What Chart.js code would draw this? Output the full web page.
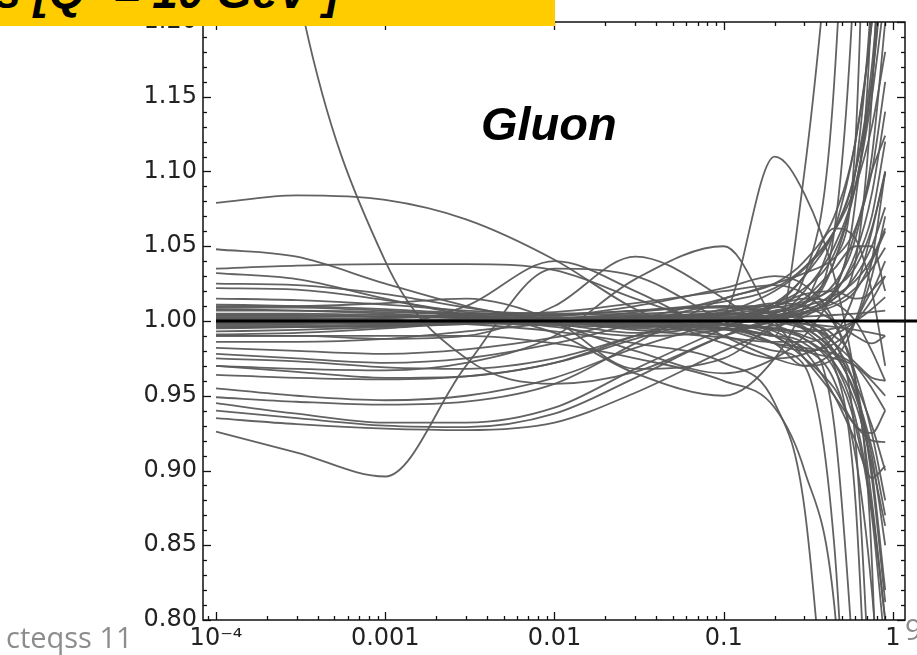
<!DOCTYPE html>
<html>
<head>
<meta charset="utf-8">
<script src="https://cdn.jsdelivr.net/npm/chart.js@4.4.1/dist/chart.umd.min.js"></script>
<style>
  html, body { margin: 0; padding: 0; background: #fff; }
  #wrap { position: relative; width: 917px; height: 655px; overflow: hidden; }
  #chart { position: absolute; left: 0; top: 0; }
  #banner { position: absolute; left: 0; top: 0; width: 555px; height: 26px; background: #ffcc00; overflow: hidden; z-index: 2; }
  #banner span { position: absolute; right: 216px; top: -31px; font: italic bold 46px "Liberation Sans", Arial, sans-serif; line-height: 46px; white-space: nowrap; color: #000; }
  #gluon { position: absolute; left: 481px; top: 100px; font: italic bold 47px "Liberation Sans", Arial, sans-serif; line-height: 47px; color: #000; z-index: 2; }
  #footer { position: absolute; left: 6px; top: 622px; font: 29px "Open Sans", sans-serif; line-height: 29px; color: #8c8c8c; z-index: 2; white-space: nowrap; }
  #page { position: absolute; left: 905px; top: 614px; font: 29px "Open Sans", sans-serif; line-height: 29px; color: #8c8c8c; z-index: 2; }
</style>
</head>
<body>
<div id="wrap">
  <canvas id="chart" width="917" height="655"></canvas>
  <div id="banner"><span>PDFs [Q² = 10 GeV²]</span></div>
  <div id="gluon">Gluon</div>
  <div id="footer">cteqss 11</div>
  <div id="page">9</div>
</div>
<script>
// x grid of the error-set ratios (momentum fraction x)
const xValues = [1e-4, 3e-4, 1e-3, 3e-3, 0.01, 0.03, 0.1, 0.2, 0.3, 0.45, 0.6, 0.75, 0.9];

// axis ticks
const xTickValues = [1e-4, 1e-3, 1e-2, 1e-1, 1];
const xTickLabels = ['10⁻⁴', '0.001', '0.01', '0.1', '1'];
const yTickStep = 0.05;

// central fit (ratio = 1)
const centralRatio = [1.0, 1.0];
const centralX = [1e-4, 1.4];

// error-set ratios to the central gluon
const errSet01 = [1.079, 1.084, 1.081, 1.068, 1.041, 1.008, 0.985, 0.975, 0.978, 0.990, 1.020, 1.060, 1.099];
const errSet02 = [1.048, 1.043, 1.025, 1.010, 0.998, 0.980, 0.965, 0.975, 0.990, 1.020, 1.060, 1.100, 1.124];
const errSet03 = [1.035, 1.037, 1.038, 1.038, 1.034, 1.015, 0.995, 0.985, 0.982, 0.978, 0.970, 0.955, 0.940];
const errSet04 = [1.032, 1.028, 1.015, 1.004, 0.996, 0.990, 0.995, 1.010, 1.030, 1.060, 1.100, 1.160, 1.250];
const errSet05 = [1.025, 1.024, 1.018, 1.009, 1.001, 0.995, 0.994, 1.000, 1.006, 1.012, 1.022, 1.035, 1.049];
const errSet06 = [1.022, 1.021, 1.014, 1.006, 1.004, 1.010, 1.022, 1.030, 1.024, 1.000, 0.960, 0.895, 0.812];
const errSet07 = [1.015, 1.014, 1.011, 1.007, 1.005, 1.007, 1.013, 1.022, 1.036, 1.060, 1.090, 1.130, 1.180];
const errSet08 = [1.011, 1.010, 1.008, 1.005, 1.002, 1.000, 1.002, 1.006, 1.010, 1.017, 1.027, 1.042, 1.062];
const errSet09 = [1.009, 1.009, 1.007, 1.005, 1.006, 1.012, 1.020, 1.024, 1.018, 0.998, 0.965, 0.925, 0.880];
const errSet10 = [1.007, 1.007, 1.006, 1.004, 1.000, 0.994, 0.989, 0.986, 0.986, 0.991, 1.000, 1.014, 1.030];
const errSet11 = [1.005, 1.005, 1.004, 1.003, 1.002, 1.003, 1.006, 1.012, 1.022, 1.045, 1.090, 1.160, 1.260];
const errSet12 = [1.003, 1.003, 1.003, 1.002, 1.001, 0.999, 0.997, 0.994, 0.988, 0.972, 0.945, 0.905, 0.863];
const errSet13 = [1.001, 1.001, 1.002, 1.003, 1.004, 1.005, 1.007, 1.009, 1.013, 1.022, 1.036, 1.062, 1.100];
const errSet14 = [0.999, 0.999, 1.000, 1.001, 1.002, 1.004, 1.002, 0.997, 0.988, 0.968, 0.930, 0.870, 0.780];
const errSet15 = [0.997, 0.997, 0.998, 0.999, 1.000, 1.001, 1.002, 1.004, 1.008, 1.015, 1.030, 1.050, 1.076];
const errSet16 = [0.995, 0.996, 0.997, 0.999, 1.001, 1.003, 1.005, 1.002, 0.995, 0.980, 0.958, 0.930, 0.900];
const errSet17 = [0.993, 0.994, 0.996, 0.998, 1.000, 1.001, 0.998, 0.995, 0.993, 0.995, 1.000, 1.008, 1.016];
const errSet18 = [0.991, 0.992, 0.995, 0.999, 1.003, 1.007, 1.009, 1.004, 0.996, 0.978, 0.952, 0.915, 0.870];
const errSet19 = [1.008, 1.007, 1.005, 1.002, 1.000, 0.997, 0.995, 0.997, 1.003, 1.018, 1.045, 1.085, 1.140];
const errSet20 = [1.000, 1.000, 1.000, 1.000, 0.999, 1.000, 1.001, 1.002, 1.003, 1.004, 1.005, 1.006, 1.007];
const errSet21 = [1.004, 1.004, 1.003, 1.002, 1.001, 1.001, 1.000, 0.999, 0.998, 0.996, 0.994, 0.992, 0.990];
const errSet22 = [0.998, 0.998, 0.999, 1.000, 1.001, 1.002, 1.004, 1.007, 1.012, 1.025, 1.055, 1.110, 1.200];
const errSet23 = [1.002, 1.002, 1.001, 0.999, 0.997, 0.996, 0.998, 1.003, 1.012, 1.040, 1.100, 1.220, 1.400];
const errSet24 = [0.996, 0.996, 0.997, 0.998, 0.999, 0.998, 0.995, 0.990, 0.982, 0.960, 0.910, 0.820, 0.700];
const errSet25 = [0.986, 0.986, 0.988, 0.993, 0.999, 1.006, 1.010, 1.005, 0.994, 0.972, 0.935, 0.875, 0.800];
const errSet26 = [0.982, 0.980, 0.978, 0.981, 0.989, 1.001, 1.015, 1.025, 1.032, 1.042, 1.062, 1.100, 1.160];
const errSet27 = [0.978, 0.975, 0.972, 0.975, 0.985, 0.998, 1.010, 1.010, 1.000, 0.985, 0.972, 0.962, 0.960];
const errSet28 = [0.975, 0.973, 0.969, 0.968, 0.975, 0.990, 1.005, 1.012, 1.010, 1.000, 0.990, 0.985, 0.990];
const errSet29 = [0.970, 0.966, 0.962, 0.963, 0.972, 0.988, 1.005, 1.020, 1.035, 1.060, 1.100, 1.170, 1.280];
const errSet30 = [0.964, 0.962, 0.961, 0.963, 0.972, 0.990, 1.008, 1.010, 1.000, 0.980, 0.950, 0.910, 0.850];
const errSet31 = [0.955, 0.950, 0.947, 0.950, 0.962, 0.982, 1.000, 1.010, 1.015, 1.012, 1.000, 0.980, 0.960];
const errSet32 = [0.949, 0.946, 0.944, 0.946, 0.958, 0.985, 1.015, 1.025, 1.040, 1.070, 1.120, 1.200, 1.320];
const errSet33 = [0.945, 0.938, 0.932, 0.932, 0.942, 0.968, 0.995, 1.010, 1.018, 1.020, 1.015, 1.020, 1.040];
const errSet34 = [0.940, 0.935, 0.930, 0.929, 0.938, 0.962, 0.990, 1.000, 1.000, 0.985, 0.955, 0.900, 0.820];
const errSet35 = [0.935, 0.931, 0.928, 0.927, 0.932, 0.952, 0.980, 0.995, 1.005, 1.020, 1.040, 1.070, 1.120];
const errSet36 = [0.926, 0.912, 0.896, 0.970, 1.035, 1.030, 1.000, 0.985, 0.980, 0.985, 1.000, 1.030, 1.070];
const errSet37 = [1.600, 1.225, 1.040, 0.975, 0.958, 0.966, 0.990, 1.000, 1.005, 1.010, 1.020, 1.040, 1.060];
const errSet38 = [0.970, 0.968, 0.967, 0.972, 0.990, 1.028, 1.050, 1.000, 0.975, 0.950, 0.930, 0.920, 0.919];
const errSet39 = [1.000, 1.000, 1.000, 1.000, 0.998, 0.992, 1.005, 1.110, 1.085, 1.030, 0.960, 0.880, 0.800];
const errSet40 = [1.000, 1.001, 1.002, 1.004, 0.992, 0.965, 0.950, 0.975, 1.010, 1.060, 1.120, 1.200, 1.300];
const errSet41 = [1.000, 1.000, 1.000, 0.998, 0.993, 0.985, 0.972, 0.945, 0.875, 0.650, 0.450, 0.300, 0.200];
const errSet42 = [0.990, 0.990, 0.990, 0.990, 0.985, 0.975, 0.960, 0.942, 0.900, 0.810, 0.600, 0.450, 0.350];
const errSet43 = [1.000, 1.000, 0.998, 1.010, 1.040, 1.020, 0.990, 0.975, 0.970, 0.980, 1.000, 1.020, 1.030];
const errSet44 = [0.990, 0.990, 0.988, 0.990, 1.010, 1.043, 1.015, 0.990, 0.980, 0.975, 0.970, 0.960, 0.950];
const errSet45 = [1.010, 1.010, 1.012, 1.015, 1.000, 0.968, 0.975, 1.000, 1.020, 1.050, 1.090, 1.150, 1.220];
const errSet46 = [1.000, 1.000, 1.000, 1.000, 1.000, 1.000, 0.998, 0.990, 1.100, 1.300, 1.500, 1.800, 2.200];
const errSet47 = [1.000, 1.000, 1.000, 1.000, 1.001, 1.002, 1.005, 1.010, 1.030, 1.160, 1.500, 2.000, 2.500];
const errSet48 = [1.000, 1.000, 1.000, 1.001, 1.002, 1.003, 1.004, 1.006, 1.012, 1.060, 1.250, 1.600, 2.000];
const errSet49 = [0.999, 0.999, 1.000, 1.000, 1.001, 1.001, 1.002, 1.004, 1.008, 1.040, 1.120, 1.500, 2.000];
const errSet50 = [1.001, 1.001, 1.000, 1.000, 0.999, 0.999, 1.000, 1.002, 1.006, 1.020, 1.080, 1.220, 1.600];
const errSet51 = [1.000, 1.000, 1.000, 1.000, 1.000, 1.000, 1.001, 1.003, 1.006, 1.015, 1.040, 1.150, 1.350];
const errSet52 = [1.000, 1.000, 1.000, 1.000, 1.000, 0.998, 0.990, 0.980, 0.970, 0.850, 0.600, 0.400, 0.300];
const errSet53 = [1.000, 1.000, 1.000, 0.999, 0.998, 0.997, 0.995, 0.990, 0.985, 0.930, 0.750, 0.550, 0.400];
const errSet54 = [1.000, 1.000, 1.000, 1.000, 1.000, 1.000, 0.998, 0.995, 0.990, 0.970, 0.880, 0.650, 0.450];
const errSet55 = [1.000, 1.000, 1.000, 1.000, 1.001, 1.002, 1.003, 1.000, 0.995, 0.985, 0.920, 0.720, 0.500];
const errSet56 = [1.000, 1.000, 1.000, 1.000, 1.000, 1.001, 1.002, 1.002, 0.998, 0.990, 0.960, 0.840, 0.550];
const errSet57 = [1.000, 1.000, 1.000, 1.000, 1.000, 1.000, 1.002, 1.012, 1.030, 1.062, 1.055, 1.020, 0.970];
const errSet58 = [1.000, 1.000, 1.000, 1.000, 1.000, 1.000, 1.000, 1.005, 1.015, 1.035, 1.050, 1.050, 1.020];
const errSet59 = [1.000, 1.000, 1.000, 1.000, 1.000, 0.999, 0.995, 0.985, 0.970, 0.975, 1.000, 1.040, 1.100];
const errSet60 = [1.000, 1.000, 1.000, 1.000, 1.000, 1.000, 0.998, 0.990, 0.975, 0.955, 0.930, 0.925, 0.940];
const errSet61 = [1.000, 1.000, 1.000, 1.000, 1.000, 1.000, 0.998, 0.993, 0.980, 0.950, 0.920, 0.895, 0.903];

const errorSets = [
  errSet01, errSet02, errSet03, errSet04, errSet05, errSet06, errSet07, errSet08, errSet09, errSet10,
  errSet11, errSet12, errSet13, errSet14, errSet15, errSet16, errSet17, errSet18, errSet19, errSet20,
  errSet21, errSet22, errSet23, errSet24, errSet25, errSet26, errSet27, errSet28, errSet29, errSet30,
  errSet31, errSet32, errSet33, errSet34, errSet35, errSet36, errSet37, errSet38, errSet39, errSet40,
  errSet41, errSet42, errSet43, errSet44, errSet45, errSet46, errSet47, errSet48, errSet49, errSet50,
  errSet51, errSet52, errSet53, errSet54, errSet55, errSet56, errSet57, errSet58, errSet59, errSet60,
  errSet61
];

const datasets = errorSets.map(vals => ({
  data: xValues.map((x, i) => ({ x, y: vals[i] })),
  borderColor: 'rgba(90,90,90,0.95)',
  borderWidth: 1.8,
  pointRadius: 0,
  cubicInterpolationMode: 'monotone',
  fill: false,
  order: 1
}));

datasets.unshift({
  data: centralX.map((x, i) => ({ x, y: centralRatio[i] })),
  borderColor: '#000',
  borderWidth: 3,
  pointRadius: 0,
  fill: false,
  order: 0,
  clip: { left: 0, top: 0, right: 14, bottom: 0 }
});

// frame with inward major/minor ticks on all four sides
const frameTicks = {
  id: 'frameTicks',
  afterDatasetsDraw(chart) {
    const { ctx, chartArea: a, scales: { x, y } } = chart;
    ctx.save();
    ctx.strokeStyle = '#111';
    ctx.lineWidth = 1.5;
    const seg = (x1, y1, x2, y2) => { ctx.beginPath(); ctx.moveTo(x1, y1); ctx.lineTo(x2, y2); ctx.stroke(); };
    ctx.strokeRect(a.left, a.top, a.right - a.left, a.bottom - a.top);
    ctx.lineWidth = 1.3;
    for (let i = 0; i <= 40; i++) {
      const v = 0.8 + i * 0.01;
      const py = Math.round(y.getPixelForValue(v)) + 0.5;
      const len = (i % 5 === 0) ? 8 : 4;
      seg(a.left, py, a.left + len, py);
      seg(a.right, py, a.right - len, py);
    }
    for (let e = -5; e <= 0; e++) {
      for (let k = 1; k <= 9; k++) {
        const v = k * Math.pow(10, e);
        if (v < x.min || v > x.max) continue;
        const px = Math.round(x.getPixelForValue(v)) + 0.5;
        const len = (k === 1) ? 8 : 4;
        seg(px, a.bottom, px, a.bottom - len);
        seg(px, a.top, px, a.top + len);
      }
    }
    ctx.restore();
  }
};

new Chart(document.getElementById('chart'), {
  type: 'line',
  data: { datasets },
  options: {
    responsive: false,
    animation: false,
    events: [],
    layout: { padding: { top: 22, right: 12, left: 0, bottom: 0 } },
    plugins: { legend: { display: false }, tooltip: { enabled: false } },
    scales: {
      x: {
        type: 'logarithmic',
        min: 8.375e-5,
        max: 1.178,
        grid: { display: false, drawTicks: false },
        border: { display: false },
        afterBuildTicks: s => { s.ticks = xTickValues.map(v => ({ value: v })); },
        afterFit: s => { s.height = 35; },
        ticks: {
          autoSkip: false,
          maxRotation: 0,
          padding: 4,
          color: '#222',
          font: { family: 'DejaVu Sans', size: 24 },
          callback: (v, i) => xTickLabels[i]
        }
      },
      y: {
        type: 'linear',
        min: 0.8,
        max: 1.2,
        grid: { display: false, drawTicks: false },
        border: { display: false },
        afterFit: s => { s.width = 203; },
        ticks: {
          stepSize: yTickStep,
          padding: 6,
          color: '#222',
          font: { family: 'DejaVu Sans', size: 24 },
          callback: v => Number(v).toFixed(2)
        }
      }
    }
  },
  plugins: [frameTicks]
});
</script>
</body>
</html>
